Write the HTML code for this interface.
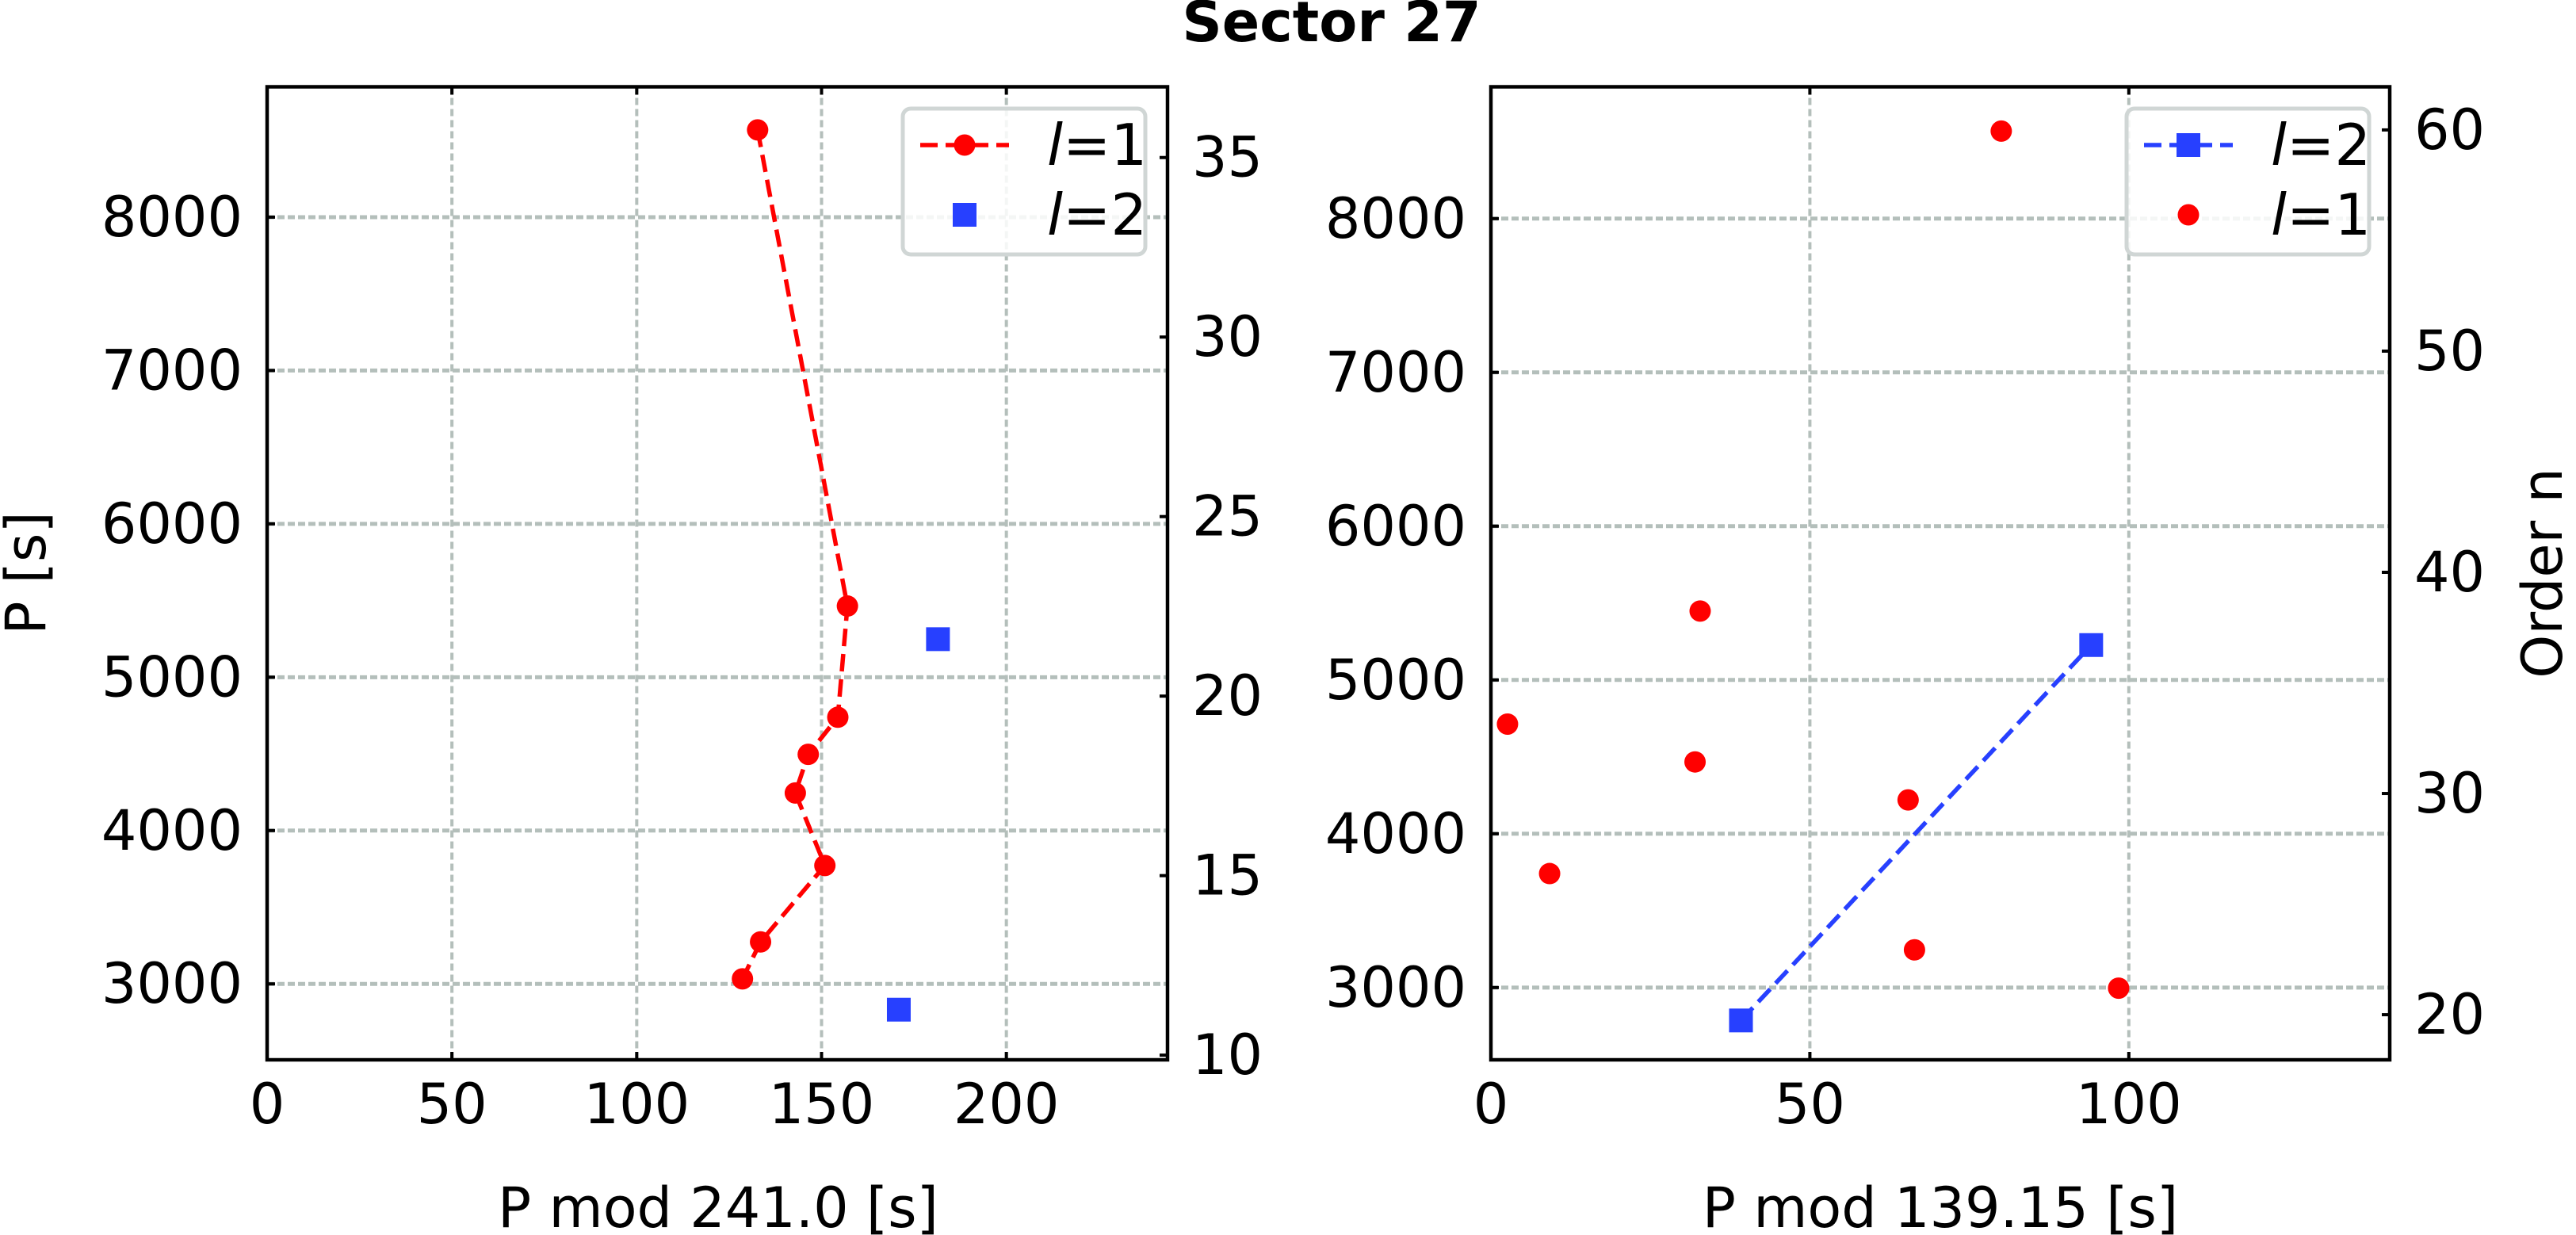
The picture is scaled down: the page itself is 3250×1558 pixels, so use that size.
<!DOCTYPE html>
<html><head><meta charset="utf-8"><style>
html,body{margin:0;padding:0;background:#fff;}
svg{display:block;font-family:"DejaVu Sans","Liberation Sans",sans-serif;}
</style></head>
<body>
<svg id="fig" width="3250" height="1558" viewBox="0 0 3250 1558" xmlns="http://www.w3.org/2000/svg">
<text x="1680" y="52" font-size="70" font-weight="bold" text-anchor="middle">Sector 27</text>
<text transform="translate(57,723) rotate(-90)" font-size="70" text-anchor="middle">P [s]</text>
<text transform="translate(3232,723) rotate(-90)" font-size="70" text-anchor="middle">Order n</text>
<text x="906" y="1548" font-size="70" text-anchor="middle">P mod 241.0 [s]</text>
<text x="2448" y="1548" font-size="70" text-anchor="middle">P mod 139.15 [s]</text>
<g id="left"></g>
<g id="right"></g>
</svg>
<script>
// ---- data ----
const leftL1X = [132.7, 157.0, 154.4, 146.4, 142.9, 150.9, 133.5, 128.6];
const leftL1P = [8569, 5464, 4739, 4497, 4245, 3772, 3274, 3033];
const leftL2X = [181.5, 170.9];
const leftL2P = [5248, 2832];
const rightL1X = [80.0, 32.8, 2.6, 32.0, 65.4, 9.2, 66.4, 98.4];
const rightL1P = [8569, 5448, 4713, 4467, 4220, 3741, 3245, 2996];
const rightL2X = [39.2, 94.1];
const rightL2P = [2786, 5227];
const yTicks = [3000, 4000, 5000, 6000, 7000, 8000];
const leftXTicks = [0, 50, 100, 150, 200];
const rightXTicks = [0, 50, 100];
const leftOrderTicks = [10, 15, 20, 25, 30, 35];
const rightOrderTicks = [20, 30, 40, 50, 60];

const NS = "http://www.w3.org/2000/svg";
function mk(parent, tag, attrs, txt) {
  const e = document.createElementNS(NS, tag);
  for (const k in attrs) e.setAttribute(k, attrs[k]);
  if (txt !== undefined) e.textContent = txt;
  parent.appendChild(e);
  return e;
}
const RED = "#ff0000", BLUE = "#2740ff", GRID = "#b4bfbb";

function panel(g, opt) {
  const L = opt.x0, R = opt.x1, T = 109.5, B = 1337;
  const sx = v => L + (v - opt.xmin) / (opt.xmax - opt.xmin) * (R - L);
  const sy = v => B - (v - opt.ymin) / (opt.ymax - opt.ymin) * (B - T);
  const so = v => B - (v - opt.omin) / (opt.omax - opt.omin) * (B - T);
  opt.xticks.forEach(v => {
    const x = sx(v);
    if (v !== opt.xmin) {
      const gl = mk(g, "line", {x1: x, x2: x, y1: T, y2: B, stroke: GRID, "stroke-width": 4, "stroke-dasharray": "9 5"});
      
      
    }
    const tk = mk(g, "line", {x1: x, x2: x, y1: B, y2: B - 10, stroke: "#000", "stroke-width": 4});
    
    
    const tk2 = mk(g, "line", {x1: x, x2: x, y1: T, y2: T + 10, stroke: "#000", "stroke-width": 4});
    
    
    const t = mk(g, "text", {x: x, y: 1393, "font-size": 70, "text-anchor": "middle", "dominant-baseline": "central"}, String(v));
    
    
  });
  yTicks.forEach(v => {
    const y = sy(v);
    const gl = mk(g, "line", {x1: L, x2: R, y1: y, y2: y, stroke: GRID, "stroke-width": 5, "stroke-dasharray": "9 4"});
    
    
    const tk = mk(g, "line", {x1: L, x2: L + 10, y1: y, y2: y, stroke: "#000", "stroke-width": 4});
    
    
    const t = mk(g, "text", {x: L - 31, y: y, "font-size": 70, "text-anchor": "end", "dominant-baseline": "central"}, String(v));
    
    
  });
  opt.oticks.forEach(v => {
    const y = so(v);
    const tk = mk(g, "line", {x1: R - 10, x2: R, y1: y, y2: y, stroke: "#000", "stroke-width": 4});
    
    
    const t = mk(g, "text", {x: R + 31, y: y, "font-size": 70, "text-anchor": "start", "dominant-baseline": "central"}, String(v));
    
    
  });
  function series(xs, ps, color, shape, line, name) {
    if (line) {
      const pts = xs.map((v, i) => sx(v) + "," + sy(ps[i])).join(" ");
      const pl = mk(g, "polyline", {points: pts, fill: "none", stroke: color, "stroke-width": 5.5, "stroke-dasharray": "22 10"});
      
      
    }
    xs.forEach((v, i) => {
      let m;
      if (shape === "circle") m = mk(g, "circle", {cx: sx(v), cy: sy(ps[i]), r: 13.5, fill: color});
      else m = mk(g, "rect", {x: sx(v) - 15, y: sy(ps[i]) - 15, width: 30, height: 30, fill: color});
      
      
    });
  }
  opt.draw(series);
  const fr = mk(g, "rect", {x: L, y: T, width: R - L, height: B - T, fill: "none", stroke: "#000", "stroke-width": 4.5});
  
  
  const lg = mk(g, "g", {});
  
  
  const lx = opt.legX;
  mk(lg, "rect", {x: lx, y: 137, width: 306, height: 184, rx: 10, fill: "#fff", "fill-opacity": 0.85, stroke: "#d0d6d5", "stroke-width": 5});
  opt.legend.forEach((it, k) => {
    const y = 183 + k * 88;
    const e = mk(lg, "g", {});
    
    
    if (it.line) mk(e, "line", {x1: lx + 22, x2: lx + 134, y1: y, y2: y, stroke: it.color, "stroke-width": 5.5, "stroke-dasharray": "22 10"});
    if (it.shape === "circle") mk(e, "circle", {cx: lx + 78, cy: y, r: 13.5, fill: it.color});
    else mk(e, "rect", {x: lx + 63, y: y - 15, width: 30, height: 30, fill: it.color});
    const t = mk(e, "text", {x: lx + 182, y: y, "font-size": 72, "dominant-baseline": "central"});
    mk(t, "tspan", {"font-style": "italic"}, "l");
    mk(t, "tspan", {}, "=" + it.label);
  });
}

panel(document.getElementById("left"), {
  x0: 337, x1: 1473, xmin: 0, xmax: 243.6, ymin: 2505, ymax: 8850, omin: 9.87, omax: 36.97,
  xticks: leftXTicks, oticks: leftOrderTicks, legX: 1139,
  legend: [{color: RED, shape: "circle", line: true, label: "1"}, {color: BLUE, shape: "rect", line: false, label: "2"}],
  draw: s => { s(leftL1X, leftL1P, RED, "circle", true, "l1"); s(leftL2X, leftL2P, BLUE, "rect", false, "l2"); }
});
panel(document.getElementById("right"), {
  x0: 1881, x1: 3015, xmin: 0, xmax: 140.9, ymin: 2530, ymax: 8857, omin: 17.96, omax: 61.95,
  xticks: rightXTicks, oticks: rightOrderTicks, legX: 2683,
  legend: [{color: BLUE, shape: "rect", line: true, label: "2"}, {color: RED, shape: "circle", line: false, label: "1"}],
  draw: s => { s(rightL2X, rightL2P, BLUE, "rect", true, "l2"); s(rightL1X, rightL1P, RED, "circle", false, "l1"); }
});
</script>
</body></html>
